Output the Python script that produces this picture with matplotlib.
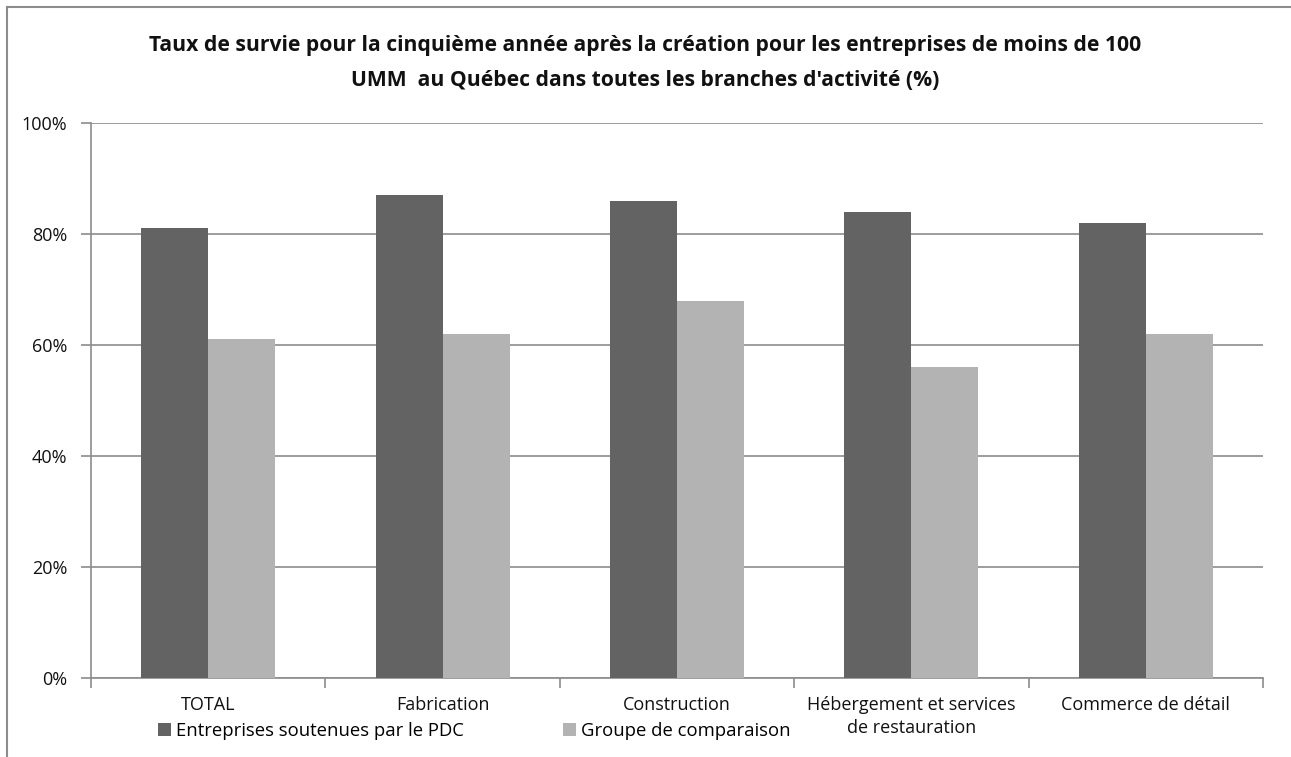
import matplotlib
matplotlib.use("Agg")
import matplotlib.pyplot as plt
from matplotlib.lines import Line2D
from matplotlib.patches import Patch
import numpy as np

plt.rcParams['font.family'] = ['Open Sans', 'DejaVu Sans']

categories = ["TOTAL", "Fabrication", "Construction",
              "Hébergement et services\nde restauration", "Commerce de détail"]
pdc = [81, 87, 86, 84, 82]
comparaison = [61, 62, 68, 56, 62]
series_names = ["Entreprises soutenues par le PDC", "Groupe de comparaison"]
title = ("Taux de survie pour la cinquième année après la création pour les entreprises de moins de 100\n"
         "UMM  au Québec dans toutes les branches d'activité (%)")

W, H = 1291, 757
fig = plt.figure(figsize=(W / 100, H / 100), dpi=100)
ax = fig.add_axes([91 / W, 1 - 678 / H, (1263 - 91) / W, (678 - 123) / H])

dark = "#636363"
light = "#b3b3b3"
grid = "#8c8c8c"
txt = "#111111"
fs = 13

x = np.arange(len(categories))
bw = 0.286
ax.bar(x - bw / 2, pdc, bw, color=dark, zorder=3)
ax.bar(x + bw / 2, comparaison, bw, color=light, zorder=3)

ax.set_xlim(-0.5, len(categories) - 0.5)
ax.set_ylim(0, 100)
ax.set_yticks(range(0, 101, 20))
ax.set_yticklabels([f"{v}%" for v in range(0, 101, 20)], fontsize=fs, color=txt)
ax.yaxis.grid(True, color=grid, linewidth=1.2, zorder=0)
ax.set_xticks(x)
ax.set_xticklabels(categories, fontsize=fs, color=txt, linespacing=1.35)
ax.tick_params(axis="x", length=0, pad=13)
ax.set_xticks(np.arange(-0.5, len(categories), 1), minor=True)
ax.tick_params(axis="x", which="minor", length=7, color=grid, width=1.2)
ax.tick_params(axis="y", length=7, color=grid, width=1.2, pad=10)
for s in ["top", "right"]:
    ax.spines[s].set_visible(False)
for s in ["left", "bottom"]:
    ax.spines[s].set_color(grid)
    ax.spines[s].set_linewidth(1.2)

fig.text(0.5 * (150 + 1140) / W, 1 - 63 / H, title, ha="center", va="center",
         fontsize=15.2, fontweight="bold", linespacing=1.85, color=txt)

handles = [Patch(facecolor=dark, edgecolor="none"), Patch(facecolor=light, edgecolor="none")]
fig.legend(handles, series_names, loc="center left", bbox_to_anchor=(158 / W, 1 - 731 / H),
           ncol=2, frameon=False, fontsize=13.3, handlelength=0.7, handleheight=0.7,
           handletextpad=0.25, columnspacing=5.4, borderaxespad=0, borderpad=0)

# outer chart border
fig.add_artist(Line2D([7 / W, 7 / W], [0, 1 - 7 / H], color="#8c8c8c", linewidth=1.5,
                      transform=fig.transFigure))
fig.add_artist(Line2D([7 / W, 1], [1 - 7 / H, 1 - 7 / H], color="#8c8c8c", linewidth=1.5,
                      transform=fig.transFigure))

fig.savefig("out.png", dpi=100)
